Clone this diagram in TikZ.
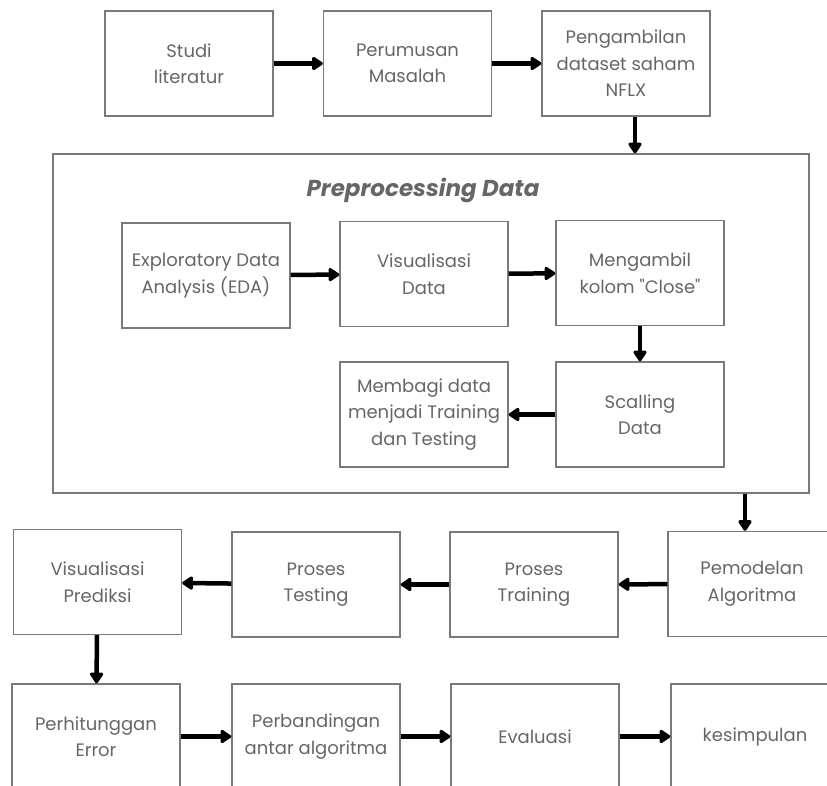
\documentclass[tikz,border=0pt]{standalone}
\usepackage{fontspec}
\setmainfont{Poppins}[Ligatures=TeXOff]
\usetikzlibrary{arrows.meta}
\definecolor{boxgray}{HTML}{7A7A7A}
\definecolor{textgray}{HTML}{666666}

\begin{document}
\begin{tikzpicture}
 [
  x=1pt, y=-1pt,
  >={Triangle[width=15pt,length=12pt,round]},
  box/.style   = {draw = boxgray, line width = 1.4pt, minimum width = 168pt,
                  minimum height = 105pt, align = center, text = textgray,
                  font = \fontsize{18}{26.5}\selectfont},
  arrow/.style = {->, line width = 4.5pt, black},
 ]
 \useasboundingbox (0,0) rectangle (827,785);
 \clip (0,0) rectangle (827,785);

 % top row
 \node[box] (studi)   at (189,63.5)  {Studi\\literatur};
 \node[box] (rumusan) at (407.5,63.5) {Perumusan\\Masalah};
 \node[box] (ambil)   at (626,63.5)  {Pengambilan\\dataset saham\\NFLX};

 % preprocessing frame
 \node[draw = boxgray, line width = 1.4pt, minimum width = 756pt,
       minimum height = 339pt] (prep) at (431,323.5) {};
 \node[text = textgray, font = \fontsize{23}{26}\selectfont\bfseries\itshape]
       (judul) at (423,190) {Preprocessing Data};
 \node[box] (eda)   at (206,275.5) {Exploratory Data\\Analysis (EDA)};
 \node[box] (vis)   at (424,274)   {Visualisasi\\Data};
 \node[box] (kolom) at (640,273)   {Mengambil\\kolom "Close"};
 \node[box] (scal)  at (640,414.5) {Scalling\\Data};
 \node[box] (bagi)  at (424,414.5) {Membagi data\\menjadi Training\\dan Testing};

 % modelling row
 \node[box] (visp)  at (97.5,582) {Visualisasi\\Prediksi};
 \node[box] (test)  at (316,584.5) {Proses\\Testing};
 \node[box] (train) at (534,584.5) {Proses\\Training};
 \node[box] (model) at (752,584)   {Pemodelan\\Algoritma};

 % bottom row
 \node[box] (hitung)  at (96,736.5)  {Perhitunggan\\Error};
 \node[box] (banding) at (316,736.5) {Perbandingan\\antar algoritma};
 \node[box] (eval)    at (535,736.5) {Evaluasi};
 \node[box] (simpul)  at (755,736.5) {kesimpulan};

 \draw[arrow] (studi) -- (rumusan);
 \draw[arrow] (rumusan) -- (ambil);
 \draw[arrow] ([xshift=9pt]ambil.south) -- ([xshift=9pt]ambil.south |- prep.north);
 \draw[arrow] (eda) -- (vis);
 \draw[arrow] (vis) -- (kolom);
 \draw[arrow] (kolom) -- (scal);
 \draw[arrow] (scal) -- (bagi);
 \draw[arrow] ([xshift=-7pt]model.north |- prep.south) -- ([xshift=-7pt]model.north);
 \draw[arrow] (model) -- (train);
 \draw[arrow] (train) -- (test);
 \draw[arrow] (test) -- (visp);
 \draw[arrow] (visp) -- (hitung);
 \draw[arrow] (hitung) -- (banding);
 \draw[arrow] (banding) -- (eval);
 \draw[arrow] (eval) -- (simpul);
\end{tikzpicture}
\end{document}
